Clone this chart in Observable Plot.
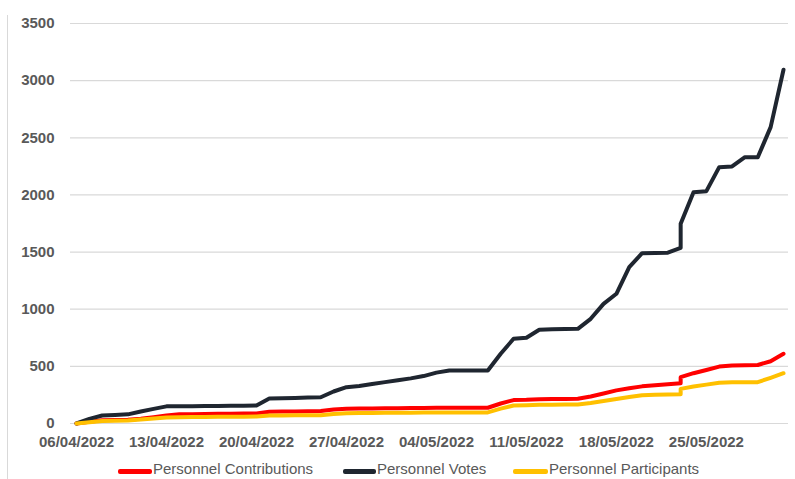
<!DOCTYPE html>
<html>
<head>
<meta charset="utf-8">
<script src="https://cdn.jsdelivr.net/npm/d3@7"></script>
<script src="https://cdn.jsdelivr.net/npm/@observablehq/plot@0.6"></script>
<style>
  html, body { margin: 0; padding: 0; background: #fff; overflow: hidden; }
  #wrap { position: relative; width: 795px; height: 479px; font-family: "Liberation Sans", Arial, sans-serif; }
  #border { position: absolute; left: 7px; top: 15px; width: 1px; height: 470px; background: #d9d9d9; }
  #chart { position: absolute; left: 0; top: 0; }
  .lg { position: absolute; top: 461px; font-size: 15px; line-height: 16px; color: #595959; white-space: nowrap; }
  .sw { position: absolute; top: 469px; height: 5px; border-radius: 2px; }
</style>
</head>
<body>
<div id="wrap">
  <div id="border"></div>
  <div id="chart"></div>
  <div id="legend"></div>
</div>
<script>
// ---- data ----
const dates = [
  "2022-04-06","2022-04-07","2022-04-08","2022-04-09","2022-04-10","2022-04-11","2022-04-12","2022-04-13",
  "2022-04-14","2022-04-15","2022-04-16","2022-04-17","2022-04-18","2022-04-19","2022-04-20","2022-04-21",
  "2022-04-22","2022-04-23","2022-04-24","2022-04-25","2022-04-26","2022-04-27","2022-04-28","2022-04-29",
  "2022-04-30","2022-05-01","2022-05-02","2022-05-03","2022-05-04","2022-05-05","2022-05-06","2022-05-07",
  "2022-05-08","2022-05-09","2022-05-10","2022-05-11","2022-05-12","2022-05-13","2022-05-14","2022-05-15",
  "2022-05-16","2022-05-17","2022-05-18","2022-05-19","2022-05-20","2022-05-21","2022-05-22","2022-05-23",
  "2022-05-23","2022-05-24","2022-05-25","2022-05-26","2022-05-27","2022-05-28","2022-05-29","2022-05-30",
  "2022-05-31"
];
const contributions = [
  0, 15, 28, 30, 32, 42, 55, 70,
  80, 82, 84, 85, 86, 87, 88, 102,
  104, 106, 108, 110, 122, 130, 131, 132,
  133, 134, 135, 136, 137, 138, 138, 138,
  138, 175, 205, 207, 212, 214, 215, 216,
  236, 262, 290, 308, 325, 335, 343, 352,
  405, 440, 468, 498, 508, 510, 512, 545,
  610
];
const votes = [
  0, 40, 70, 75, 80, 105, 128, 150,
  151, 152, 153, 154, 155, 156, 157, 218,
  221, 224, 227, 230, 280, 318, 328, 345,
  362, 378, 395, 415, 445, 464, 464, 464,
  464, 610, 741, 750, 820, 824, 826, 828,
  916, 1047, 1135, 1368, 1490, 1492, 1495, 1537,
  1747, 2024, 2033, 2243, 2249, 2330, 2330, 2593,
  3095
];
const participants = [
  0, 10, 22, 24, 26, 35, 44, 52,
  55, 56, 57, 58, 59, 60, 61, 70,
  71, 72, 72, 73, 83, 90, 91, 92,
  93, 94, 95, 96, 97, 97, 97, 97,
  97, 130, 157, 160, 163, 165, 166, 167,
  180, 197, 215, 232, 248, 252, 254, 255,
  303, 324, 340, 357, 361, 361, 362, 400,
  440
];
const seriesNames = ["Personnel Contributions", "Personnel Votes", "Personnel Participants"];
const seriesColors = ["#ff0000", "#1f2630", "#ffc000"];
const xTickLabels = ["06/04/2022","13/04/2022","20/04/2022","27/04/2022","04/05/2022","11/05/2022","18/05/2022","25/05/2022"];
const yTicks = [0, 500, 1000, 1500, 2000, 2500, 3000, 3500];

// ---- build ----
const parseISO = d3.utcParse("%Y-%m-%d");
const parseLbl = d3.utcParse("%d/%m/%Y");
const fmtLbl = d3.utcFormat("%d/%m/%Y");
const xTicks = xTickLabels.map(parseLbl);
const allSeries = [contributions, votes, participants];
const rows = allSeries.map((vals, s) => vals.map((v, i) => ({date: parseISO(dates[i]), value: v, series: seriesNames[s]})));

const chart = Plot.plot({
  width: 795,
  height: 455,
  marginLeft: 76,
  marginRight: 12,
  marginTop: 23,
  marginBottom: 32,
  style: {fontFamily: "'Liberation Sans', Arial, sans-serif", fontSize: "15px", color: "#595959", background: "transparent"},
  x: {type: "utc", domain: [parseISO(dates[0]), parseISO(dates[dates.length - 1])]},
  y: {domain: [0, 3500]},
  marks: [
    Plot.ruleY(yTicks, {stroke: "#d9d9d9", strokeWidth: 1.2, insetLeft: -6, insetRight: -5}),
    Plot.axisY(yTicks, {tickSize: 0, tickPadding: 22, tickFormat: d => String(d), fontWeight: "bold", label: null}),
    Plot.axisX(xTicks, {tickSize: 0, tickPadding: 13, tickFormat: fmtLbl, fontWeight: "bold", label: null}),
    ...rows.map((r, s) => Plot.line(r, {x: "date", y: "value", stroke: seriesColors[s], strokeWidth: 4, strokeLinejoin: "round", strokeLinecap: "round"}))
  ]
});
document.getElementById("chart").appendChild(chart);

// ---- legend ----
const legendPos = [[118, 153], [343, 377], [513, 549]];
const lg = document.getElementById("legend");
seriesNames.forEach((name, i) => {
  const sw = document.createElement("div");
  sw.className = "sw";
  sw.style.left = legendPos[i][0] + "px";
  sw.style.width = (legendPos[i][1] - legendPos[i][0] - 1) + "px";
  sw.style.background = seriesColors[i];
  lg.appendChild(sw);
  const t = document.createElement("div");
  t.className = "lg";
  t.style.left = legendPos[i][1] + "px";
  t.textContent = name;
  lg.appendChild(t);
});
</script>
</body>
</html>
